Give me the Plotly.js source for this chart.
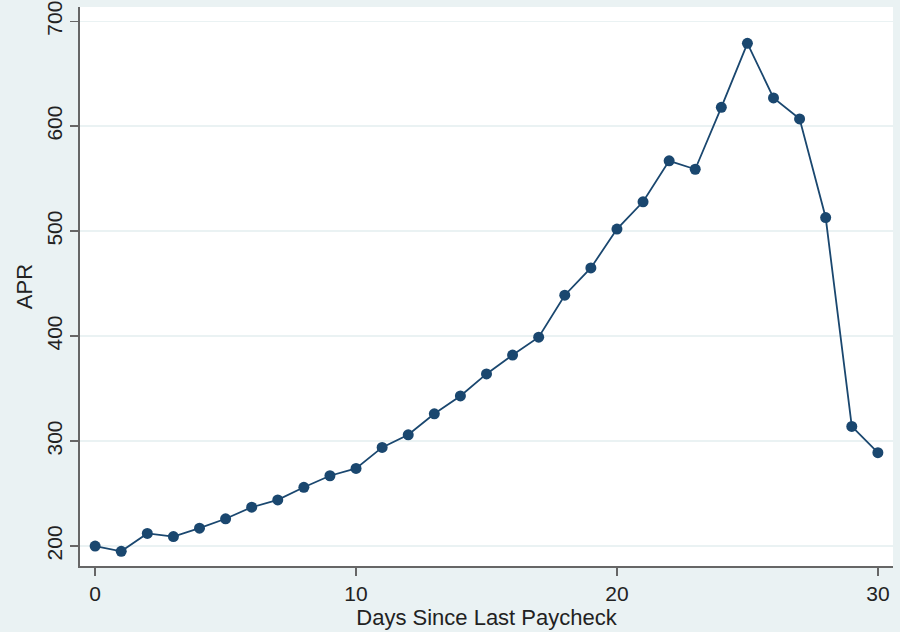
<!DOCTYPE html>
<html>
<head>
<meta charset="utf-8">
<script src="https://cdn.plot.ly/plotly-3.0.1.min.js"></script>
<style>
  html, body { margin: 0; padding: 0; background: #eaf2f3; }
  #aprGraphDiv { width: 900px; height: 632px; }
</style>
</head>
<body>
<div id="aprGraphDiv"></div>
<script>
"use strict";

const daysSincePaycheck = [0, 1, 2, 3, 4, 5, 6, 7, 8, 9, 10, 11, 12, 13, 14, 15,
    16, 17, 18, 19, 20, 21, 22, 23, 24, 25, 26, 27, 28, 29, 30];
const aprValues = [200, 195, 212, 209, 217, 226, 237, 244, 256, 267, 274, 294, 306, 326, 343, 364,
    382, 399, 439, 465, 502, 528, 567, 559, 618, 679, 627, 607, 513, 314, 289];
const xTickValues = [0, 10, 20, 30];
const yTickValues = [200, 300, 400, 500, 600, 700];

const navy = '#1a476f';
const axisGray = '#666666';

var aprTrace = {
    x: daysSincePaycheck,
    y: aprValues,
    type: 'scatter',
    mode: 'lines+markers',
    line: { color: navy, width: 1.8 },
    marker: { color: navy, size: 11 },
    hoverinfo: 'x+y'
};

var aprLayout = {
    width: 900,
    height: 632,
    paper_bgcolor: '#eaf2f3',
    plot_bgcolor: '#ffffff',
    margin: { l: 80, r: 7, t: 7, b: 66 },
    showlegend: false,
    font: { family: 'Liberation Sans, Arial, sans-serif', color: '#222222', size: 21 },
    xaxis: {
        range: [-0.58, 30.58],
        tickvals: xTickValues,
        ticks: 'outside',
        ticklen: 8,
        tickwidth: 1.5,
        tickcolor: axisGray,
        showline: true,
        linecolor: axisGray,
        linewidth: 2,
        showgrid: false,
        zeroline: false,
        tickfont: { size: 21 },
        title: { text: 'Days Since Last Paycheck', font: { size: 22 }, standoff: 2 }
    },
    yaxis: {
        range: [181, 713.6],
        tickvals: yTickValues,
        tickangle: -90,
        ticks: 'outside',
        ticklen: 8,
        tickwidth: 1.5,
        tickcolor: axisGray,
        showline: true,
        linecolor: axisGray,
        linewidth: 2,
        showgrid: true,
        gridcolor: '#eaf2f3',
        gridwidth: 1.5,
        zeroline: false,
        tickfont: { size: 21 },
        title: { text: 'APR', font: { size: 22 }, standoff: 4 }
    }
};

Plotly.newPlot('aprGraphDiv', [aprTrace], aprLayout, { displayModeBar: false, staticPlot: true });
</script>
</body>
</html>
